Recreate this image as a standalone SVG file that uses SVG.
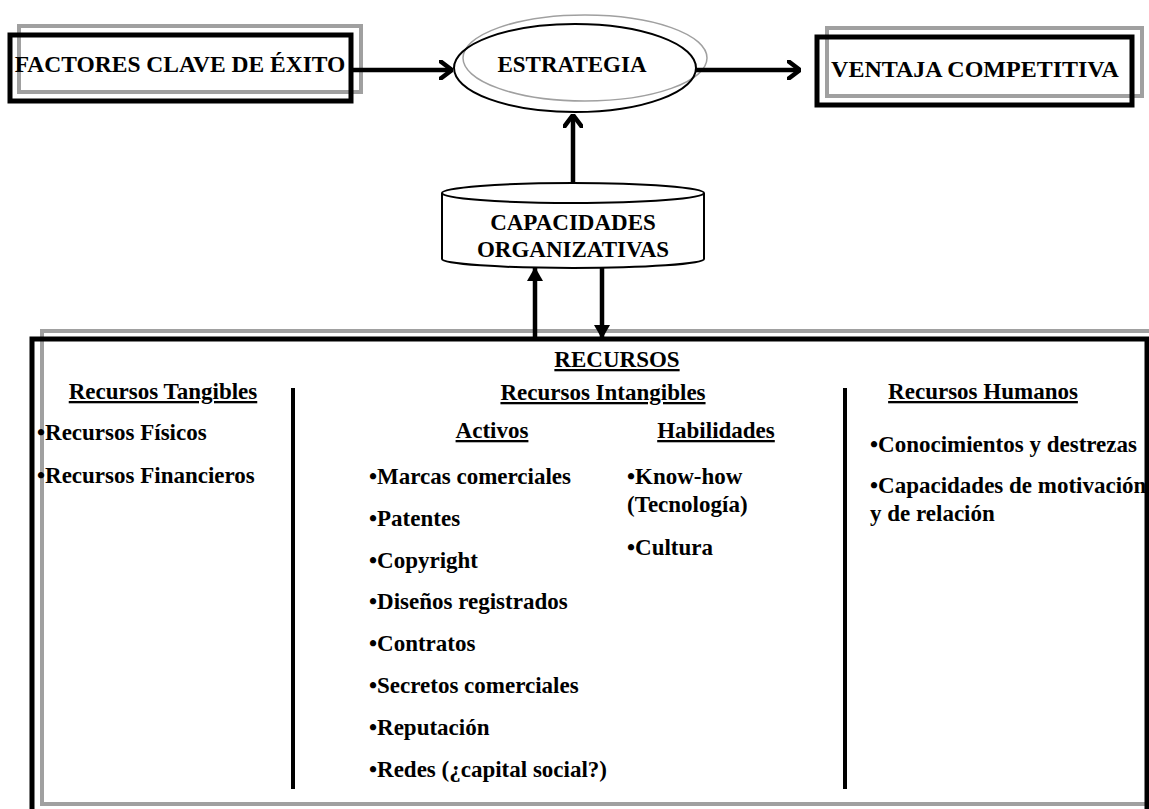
<svg xmlns="http://www.w3.org/2000/svg" width="1149" height="809" viewBox="0 0 1149 809">
<style>
text{font-family:"Liberation Serif","Times New Roman",serif;font-weight:bold;font-size:23px;fill:#000}
.u{text-decoration:underline}
.m{text-anchor:middle}
.gray{fill:none;stroke:#a0a0a0;stroke-width:4}
.blk{fill:none;stroke:#000;stroke-width:5}
.ln{fill:none;stroke:#000;stroke-width:4.5}
</style>
<defs>
<marker id="open" viewBox="0 0 14 20" refX="13" refY="10" markerWidth="14" markerHeight="20" markerUnits="userSpaceOnUse" orient="auto">
<path d="M1,1 L13,10 L1,19" fill="none" stroke="#000" stroke-width="4.5" stroke-linecap="round" stroke-linejoin="round"/>
</marker>
<marker id="tri" viewBox="0 0 14 16" refX="14" refY="8" markerWidth="14" markerHeight="16" markerUnits="userSpaceOnUse" orient="auto">
<path d="M0,0 L14,8 L0,16 Z" fill="#000"/>
</marker>
</defs>
<rect width="1149" height="809" fill="#fff"/>

<g id="recursos">
<rect x="42" y="331" width="1130" height="473" class="gray"/>
<rect x="32" y="339" width="1115" height="490" class="blk"/>
<line x1="293" y1="388" x2="293" y2="789" stroke="#000" stroke-width="4"/>
<line x1="845" y1="388" x2="845" y2="789" stroke="#000" stroke-width="4"/>
<text x="617" y="367" class="m u">RECURSOS</text>
<text x="163" y="399" class="m u">Recursos Tangibles</text>
<text x="37" y="440">•Recursos Físicos</text>
<text x="37" y="483">•Recursos Financieros</text>
<text x="603" y="400" class="m u">Recursos Intangibles</text>
<text x="492" y="438" class="m u">Activos</text>
<text x="716" y="438" class="m u">Habilidades</text>
<text x="369" y="484">•Marcas comerciales</text>
<text x="369" y="526">•Patentes</text>
<text x="369" y="568">•Copyright</text>
<text x="369" y="609">•Diseños registrados</text>
<text x="369" y="651">•Contratos</text>
<text x="369" y="693">•Secretos comerciales</text>
<text x="369" y="735">•Reputación</text>
<text x="369" y="777">•Redes (¿capital social?)</text>
<text x="627" y="484">•Know-how</text>
<text x="627" y="512">(Tecnología)</text>
<text x="627" y="555">•Cultura</text>
<text x="983" y="399" class="m u">Recursos Humanos</text>
<text x="870" y="452">•Conocimientos y destrezas</text>
<text x="870" y="493">•Capacidades de motivación</text>
<text x="870" y="521">y de relación</text>
</g>

<g id="factores">
<rect x="19" y="26" width="342" height="66" class="gray"/>
<rect x="10" y="35" width="341" height="66" class="blk"/>
<text x="180" y="72" class="m" style="font-size:23.5px">FACTORES CLAVE DE ÉXITO</text>
</g>

<g id="estrategia">
<ellipse cx="585" cy="58" rx="122" ry="43" fill="none" stroke="#a0a0a0" stroke-width="1.5"/>
<ellipse cx="575" cy="68" rx="121" ry="44" fill="none" stroke="#000" stroke-width="2"/>
<text x="572" y="72" class="m">ESTRATEGIA</text>
</g>

<g id="ventaja">
<rect x="827" y="28" width="315" height="68" class="gray"/>
<rect x="817" y="37" width="315" height="68" class="blk"/>
<text x="975" y="77" class="m" style="font-size:24px">VENTAJA COMPETITIVA</text>
</g>

<g id="capacidades">
<path d="M442,193 A131,10 0 0,1 704,193 L704,259 A131,9 0 0,1 442,259 Z" fill="#fff" stroke="#000" stroke-width="2"/>
<path d="M442,193 A131,10 0 0,0 704,193" fill="none" stroke="#000" stroke-width="2"/>
<text x="573" y="230" class="m">CAPACIDADES</text>
<text x="573" y="257" class="m">ORGANIZATIVAS</text>
</g>

<g id="connectors">
<line x1="351" y1="70" x2="452" y2="70" class="ln" marker-end="url(#open)"/>
<line x1="696" y1="70" x2="800" y2="70" class="ln" marker-end="url(#open)"/>
<line x1="573" y1="183" x2="573" y2="115" class="ln" marker-end="url(#open)"/>
<line x1="535" y1="338" x2="535" y2="267" class="ln" marker-end="url(#tri)"/>
<line x1="602" y1="268" x2="602" y2="339" class="ln" marker-end="url(#tri)"/>
</g>
</svg>
